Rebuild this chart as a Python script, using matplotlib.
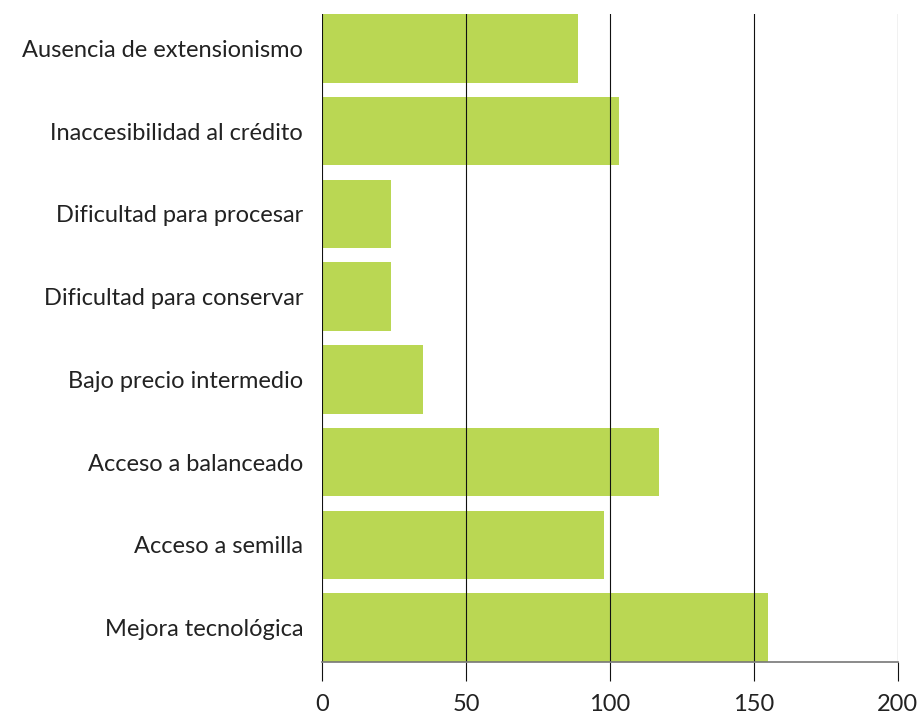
import matplotlib.pyplot as plt

# datos del gráfico (de arriba hacia abajo)
categorias = ['Ausencia de extensionismo', 'Inaccesibilidad al crédito', 'Dificultad para procesar',
              'Dificultad para conservar', 'Bajo precio intermedio', 'Acceso a balanceado',
              'Acceso a semilla', 'Mejora tecnológica']
valores = [89, 103, 24, 24, 35, 117, 98, 155]
ticks_x = [0, 50, 100, 150, 200]

fig = plt.figure(figsize=(9.22, 7.11), dpi=100)
ax = fig.add_axes([0.3492, 0.0689, 0.6247, 0.9114])

pos = list(range(len(categorias)))[::-1]
ax.barh(pos, valores, height=0.83, color='#bad753', zorder=1)

ax.set_xlim(0, 200)
ax.set_ylim(-0.415, 7.415)
ax.set_xticks(ticks_x)
ax.set_yticks(pos)
ax.set_yticklabels(categorias, fontfamily='Lato', fontsize=17, color='#222222')
ax.set_xticklabels([str(t) for t in ticks_x], fontfamily='Lato', fontsize=17, color='#222222')

for t in ticks_x:
    ax.axvline(t, color='#111111', lw=0.8, zorder=2)

for s in ['top', 'right', 'left']:
    ax.spines[s].set_visible(False)
ax.spines['bottom'].set_color('#777777')
ax.spines['bottom'].set_linewidth(1.2)
ax.spines['bottom'].set_zorder(3)

ax.tick_params(axis='y', length=0, pad=13.5)
ax.tick_params(axis='x', length=14, width=0.8, color='#111111', pad=9)

fig.savefig('out.png', dpi=100)
